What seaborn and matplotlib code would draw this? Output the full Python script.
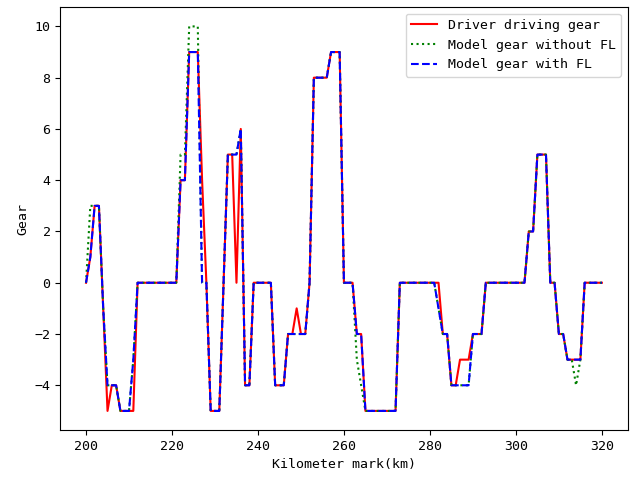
import numpy as np
import pandas as pd
import seaborn as sns
import matplotlib
matplotlib.use('Agg')
import matplotlib.pyplot as plt

plt.rcParams['font.family'] = ['DejaVu Sans Mono']
plt.rcParams['font.size'] = 9.5

# kilometer marks, one sample per km
km = list(range(200, 321))

driver_gear = [0, 1, 3, 3, -1, -5, -4, -4, -5, -5,
               -5, -5, 0, 0, 0, 0, 0, 0, 0, 0,
               0, 0, 4, 4, 9, 9, 9, 4, 0, -5,
               -5, -5, 0, 5, 5, 0, 6, -4, -4, 0,
               0, 0, 0, 0, -4, -4, -4, -2, -2, -1,
               -2, -2, 0, 8, 8, 8, 8, 9, 9, 9,
               0, 0, 0, -2, -2, -5, -5, -5, -5, -5,
               -5, -5, -5, 0, 0, 0, 0, 0, 0, 0,
               0, 0, 0, -2, -2, -4, -4, -3, -3, -3,
               -2, -2, -2, 0, 0, 0, 0, 0, 0, 0,
               0, 0, 0, 2, 2, 5, 5, 5, 0, 0,
               -2, -2, -3, -3, -3, -3, 0, 0, 0, 0,
               0]

model_no_fl = [0, 3, 3, 3, -1, -4, -4, -4, -5, -5,
               -5, -3, 0, 0, 0, 0, 0, 0, 0, 0,
               0, 0, 5, 5, 10, 10, 10, 0, 0, -5,
               -5, -5, 0, 5, 5, 5, 6, -4, -4, 0,
               0, 0, 0, 0, -4, -4, -4, -2, -2, -2,
               -2, -2, 0, 8, 8, 8, 8, 9, 9, 9,
               0, 0, 0, -3, -4, -5, -5, -5, -5, -5,
               -5, -5, -5, 0, 0, 0, 0, 0, 0, 0,
               0, 0, -1, -2, -2, -4, -4, -4, -4, -4,
               -2, -2, -2, 0, 0, 0, 0, 0, 0, 0,
               0, 0, 0, 2, 2, 5, 5, 5, 0, 0,
               -2, -2, -3, -3, -4, -3, 0, 0, 0, 0,
               0]

model_fl = [0, 1, 3, 3, -1, -4, -4, -4, -5, -5,
            -5, -3, 0, 0, 0, 0, 0, 0, 0, 0,
            0, 0, 4, 4, 9, 9, 9, 0, 0, -5,
            -5, -5, 0, 5, 5, 5, 6, -4, -4, 0,
            0, 0, 0, 0, -4, -4, -4, -2, -2, -2,
            -2, -2, 0, 8, 8, 8, 8, 9, 9, 9,
            0, 0, 0, -2, -2, -5, -5, -5, -5, -5,
            -5, -5, -5, 0, 0, 0, 0, 0, 0, 0,
            0, 0, -1, -2, -2, -4, -4, -4, -4, -4,
            -2, -2, -2, 0, 0, 0, 0, 0, 0, 0,
            0, 0, 0, 2, 2, 5, 5, 5, 0, 0,
            -2, -2, -3, -3, -3, -3, 0, 0, 0, 0,
            0]

df = pd.DataFrame({'km': km, 'driver': driver_gear,
                   'no_fl': model_no_fl, 'fl': model_fl})

fig, ax = plt.subplots(figsize=(6.34, 4.79), dpi=100)
sns.lineplot(x='km', y='driver', data=df, color='r', linestyle='-',
             label='Driver driving gear', ax=ax)
sns.lineplot(x='km', y='no_fl', data=df, color='g', linestyle=':',
             label='Model gear without FL', ax=ax)
sns.lineplot(x='km', y='fl', data=df, color='b', linestyle='--',
             label='Model gear with FL', ax=ax)
ax.set_xlabel('Kilometer mark(km)')
ax.set_ylabel('Gear')
ax.legend(loc='upper right')
plt.subplots_adjust(left=0.095, right=0.99, top=0.985, bottom=0.102)
plt.savefig('out.png', dpi=100)
